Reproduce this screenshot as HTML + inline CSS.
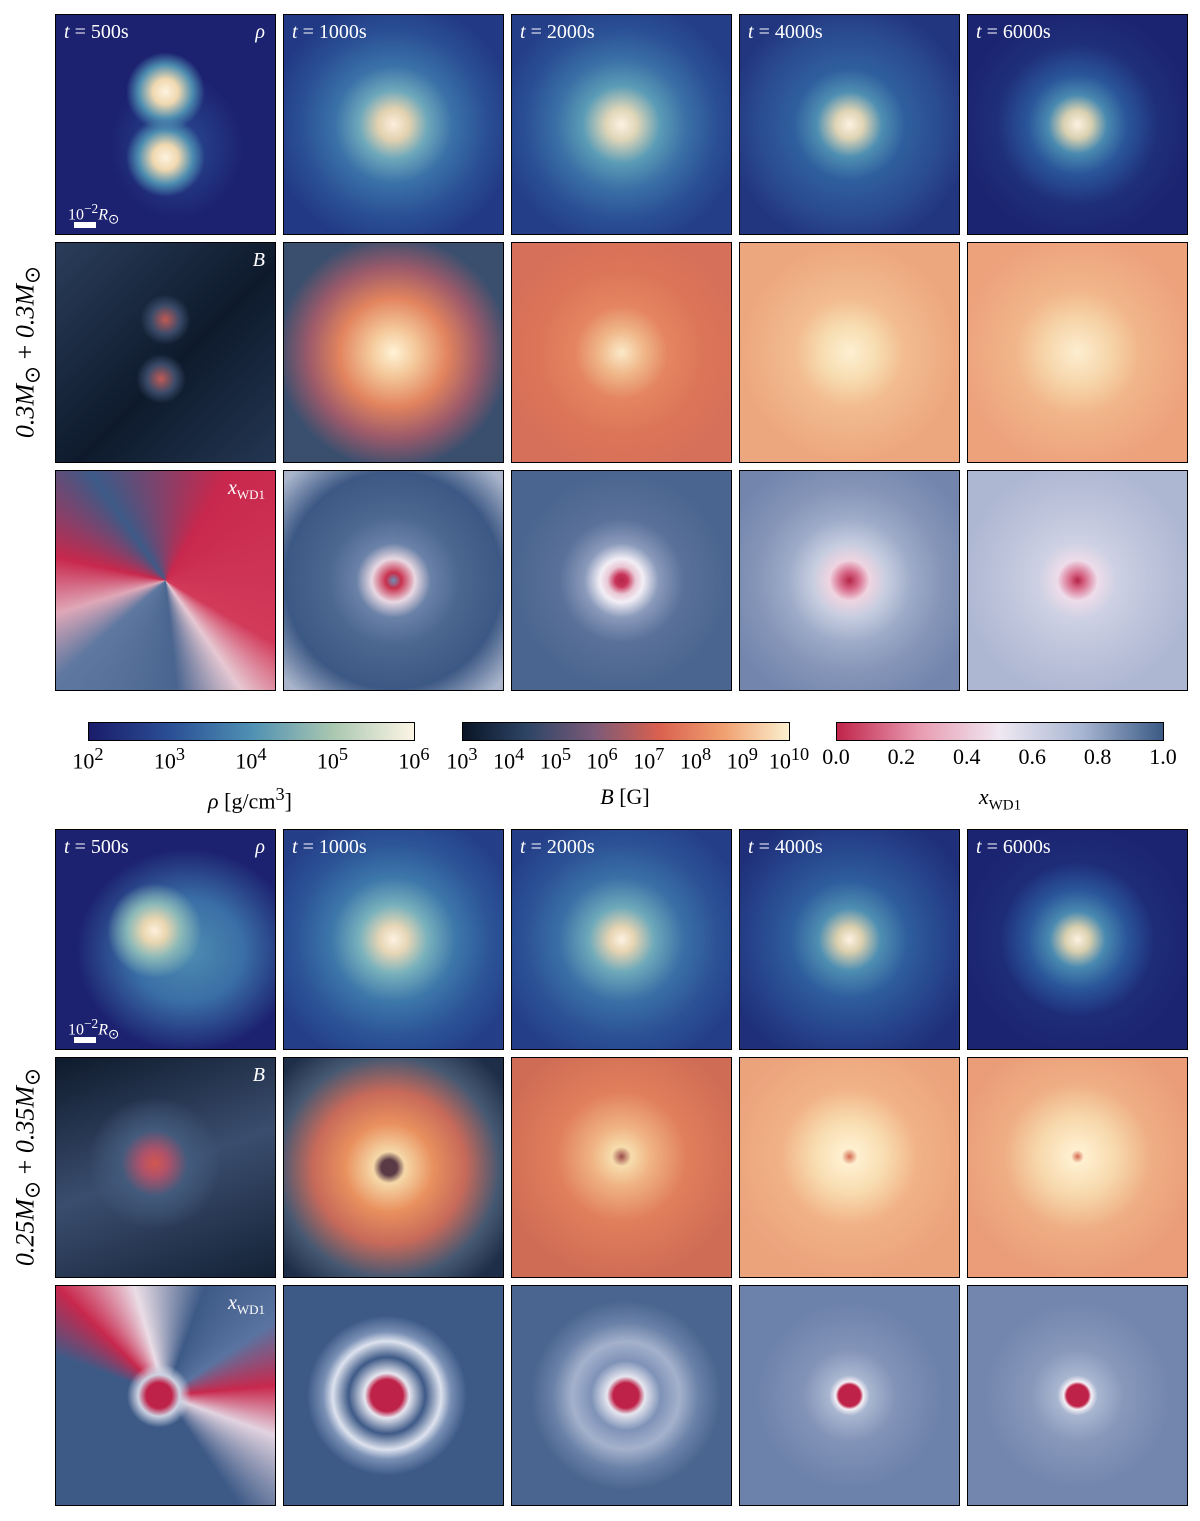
<!DOCTYPE html>
<html><head><meta charset="utf-8">
<style>
body{margin:0;background:#fff;width:1200px;height:1521px;position:relative;overflow:hidden;font-family:"Liberation Serif",serif;}
.p{position:absolute;width:219px;height:219px;border:1.5px solid #000;overflow:hidden;}
.lab{position:absolute;color:#fff;font-size:20px;top:6px;}
.cb{position:absolute;top:722px;height:17px;border:1.5px solid #000;}
.tk{position:absolute;top:744px;font-size:22px;transform:translateX(-50%);white-space:nowrap;}
.ttl{position:absolute;top:784px;font-size:22px;transform:translateX(-50%);white-space:nowrap;}
.row{position:absolute;font-size:26px;transform:translate(-50%,-50%) rotate(-90deg);white-space:nowrap;}
</style></head><body>
<div class="row" style="left:28px;top:352px"><i>0.3M</i><sub>⊙</sub> + <i>0.3M</i><sub>⊙</sub></div>
<div class="row" style="left:28px;top:1167px"><i>0.25M</i><sub>⊙</sub> + <i>0.35M</i><sub>⊙</sub></div>
<div class="cb" style="left:88px;width:325px;background:linear-gradient(90deg,#1a1c6a,#2a4f95,#4f90b3,#a9c7b0,#fdf5e6)"></div>
<div class="cb" style="left:462px;width:326px;background:linear-gradient(90deg,#0a1526,#2e4566,#7a5a78,#d9604f,#f0a070,#fbf0cf)"></div>
<div class="cb" style="left:836px;width:326px;background:linear-gradient(90deg,#c0244a,#e89ab0,#efe8f2,#a8b6d2,#3b5a85)"></div>
<div id="ticks"></div>
<div class="ttl" style="left:250px"><i>ρ</i> [g/cm<sup>3</sup>]</div>
<div class="ttl" style="left:625px"><i>B</i> [G]</div>
<div class="ttl" style="left:1000px"><i>x</i><sub style="font-size:15px">WD1</sub></div>
<div id="grid"></div>
<script>
const colX=[55,283,511,739,967];
const rowY=[14,242,470,829,1057,1285];
const times=["500","1000","2000","4000","6000"];
const rhoTicks=["10<sup>2</sup>","10<sup>3</sup>","10<sup>4</sup>","10<sup>5</sup>","10<sup>6</sup>"];
const bTicks=["10<sup>3</sup>","10<sup>4</sup>","10<sup>5</sup>","10<sup>6</sup>","10<sup>7</sup>","10<sup>8</sup>","10<sup>9</sup>","10<sup>10</sup>"];
const xTicks=["0.0","0.2","0.4","0.6","0.8","1.0"];
const bg=[
["radial-gradient(circle at 50% 35%,#fdf3e0 0,#f0d8b0 7%,#4d8db0 15%,transparent 22%),radial-gradient(circle at 50% 65%,#fdf3e0 0,#f0d8b0 7%,#4d8db0 15%,transparent 22%),radial-gradient(ellipse at 55% 60%,#2b4f95 0,#1c2170 40%)",
"radial-gradient(circle,#fbeedd 0,#e3d2b0 10%,#6ea8bb 22%,#3a72a8 38%,#2a4f95 60%,#223a85 80%)",
"radial-gradient(circle,#fdf2e2 0,#dfd6b8 10%,#5b9cb6 25%,#3a70a6 42%,#2a4f95 62%,#243e88 80%)",
"radial-gradient(circle,#fdf2e2 0,#dfd4b4 9%,#4f8fb2 21%,#2f5f9e 36%,#2a4a90 60%,#22357f 80%)",
"radial-gradient(circle,#fdf2e2 0,#d8d0b0 9%,#4a8ab0 19%,#2a569a 32%,#1f2f7a 52%,#1b2470 75%)"],
["radial-gradient(circle at 50% 35%,#c05a55 0,#3a4a68 8%,transparent 14%),radial-gradient(circle at 48% 62%,#c05a55 0,#3a4a68 8%,transparent 14%),linear-gradient(135deg,#2a3d5a,#0e1a2c 55%,#233652)",
"radial-gradient(circle,#fff3d6 0,#f4c89a 15%,#e2845e 35%,#9c5a6a 55%,#3a4f6e 75%)",
"radial-gradient(circle,#fbe9c8 0,#f0b88a 14%,#e48560 30%,#dc7458 55%,#d6705a 80%)",
"radial-gradient(circle,#fdf0d2 0,#f7dcb0 18%,#f2bc90 35%,#eda77e 70%)",
"radial-gradient(circle,#fdeed0 0,#f6d4a8 22%,#f1b68a 40%,#eda27c 75%)"],
["conic-gradient(from 30deg at 50% 50%,#c8284d 0,#d23a5a 25%,#e6c8d2 32%,#4a6590 40%,#5f78a0 55%,#dfa8b8 62%,#c8284d 70%,#3d5a87 82%,#c8284d 100%)",
"radial-gradient(circle,#6f8fb5 0,#c8304d 5%,#e8d8e2 14%,#6b82a8 24%,#4c6790 42%,#3c5884 70%,#aab5cc 95%)",
"radial-gradient(circle,#b52548 0,#c8345a 4%,#e9c7d4 9%,#f2eef5 14%,#8a9abb 24%,#5a7199 40%,#4a6590 70%)",
"radial-gradient(circle,#b52548 0,#d86a8a 6%,#efd4e0 13%,#c6cde0 24%,#9eabc8 40%,#8595b8 60%,#7385ad 85%)",
"radial-gradient(circle,#b52548 0,#d86a8a 5%,#eedcea 13%,#cdd1e3 25%,#bfc5dc 45%,#aeb7d2 75%)"],
["radial-gradient(circle at 45% 46%,#fdf0dc 0,#e9d6b0 7%,#8ab8b8 16%,transparent 28%),radial-gradient(ellipse at 60% 55%,#4e8db1 0,#3a6fa6 30%,#1c2170 60%)",
"radial-gradient(circle,#fdf2e2 0,#e6d6b6 9%,#79b1bc 22%,#3d78aa 40%,#2c5598 62%,#243e88 85%)",
"radial-gradient(circle,#fdf2e2 0,#e6d4b2 8%,#6ea9ba 21%,#3a70a6 40%,#2c5296 62%,#243e88 85%)",
"radial-gradient(circle,#fdf2e2 0,#dcd0ae 8%,#4f8fb2 20%,#2e5d9d 38%,#27468d 60%,#1f2f7a 85%)",
"radial-gradient(circle,#fdf2e2 0,#d8cfae 8%,#4a8ab0 18%,#2a569a 32%,#1e2c78 50%,#1b2470 75%)"],
["radial-gradient(circle at 45% 48%,#d2564f 0,#b0526a 8%,#435a7c 20%,transparent 40%),linear-gradient(160deg,#0e1a2c,#3a4d6e 50%,#142236)",
"radial-gradient(circle at 48% 50%,#5a3a45 0,#5a3a45 5%,#f6d8a8 10%,#e9905e 28%,#c86a5a 48%,#455872 70%,#1f2e48 90%)",
"radial-gradient(circle at 50% 45%,#9a4a48 0,#f7dcac 6%,#f0b384 18%,#e07f5b 40%,#cf6c56 75%)",
"radial-gradient(circle at 50% 45%,#d46a50 0,#fff0d0 5%,#f8dcb0 22%,#f1b286 42%,#eba37c 75%)",
"radial-gradient(circle at 50% 45%,#d46a50 0,#fff0d0 4%,#f7d8ac 24%,#efae84 45%,#ea9d78 75%)"],
["radial-gradient(circle at 47% 50%,#be2248 0,#be2248 8%,#cdd2e2 13%,transparent 20%),conic-gradient(from 200deg,#3d5a87 0,#3d5a87 25%,#c8284d 32%,#eadde6 40%,#3d5a87 50%,#5a73a0 60%,#c8284d 68%,#e2d3e0 75%,#3d5a87 85%)",
"radial-gradient(circle at 47% 50%,#be2248 0,#be2248 10%,#e6e6ef 14%,#3e5a87 24%,#dde2ee 34%,#7a90b5 40%,#3d5a87 50%)",
"radial-gradient(circle at 52% 50%,#be2248 0,#be2248 8%,#e6e6ef 12%,#7f93b8 22%,#a4b1cc 34%,#6b82a8 46%,#4a6590 60%)",
"radial-gradient(circle,#be2248 0,#be2248 7%,#f4f0f6 9%,#a9b6d0 13%,#8293b8 30%,#6d82aa 60%)",
"radial-gradient(circle,#be2248 0,#be2248 7%,#f4f0f6 9%,#a9b6d0 13%,#8798bb 30%,#7386ad 60%)"]
];
const g=document.getElementById('grid');
rowY.forEach((y,r)=>{colX.forEach((x,c)=>{
 const d=document.createElement('div');d.className='p';
 
 
 d.style.left=x+'px';d.style.top=y+'px';d.style.background=bg[r][c];
 let h='';
 if(r%3==0) h+='<div class="lab" style="left:8px"><i>t</i> = '+times[c]+'s</div>';
 if(c==0&&r%3==0) h+='<div class="lab" style="right:10px"><i>ρ</i></div><div class="lab" style="left:12px;top:186px;font-size:16px">10<sup>−2</sup><i>R</i><sub>⊙</sub></div><div style="position:absolute;left:18px;top:207px;width:22px;height:6px;background:#fff"></div>';
 if(c==0&&r%3==1) h+='<div class="lab" style="right:10px"><i>B</i></div>';
 if(c==0&&r%3==2) h+='<div class="lab" style="right:10px"><i>x</i><sub style="font-size:13px">WD1</sub></div>';
 d.innerHTML=h;g.appendChild(d);
});});
const t=document.getElementById('ticks');
function addTicks(arr,x0,x1,nm){arr.forEach((s,i)=>{
 const e=document.createElement('div');e.className='tk';
 
 
 e.style.left=(x0+(x1-x0)*i/(arr.length-1))+'px';e.innerHTML=s;t.appendChild(e);});}
addTicks(rhoTicks,88,414,'density');
addTicks(bTicks,462,789,'b');
addTicks(xTicks,836,1163,'xwd1');
</script>
</body></html>
